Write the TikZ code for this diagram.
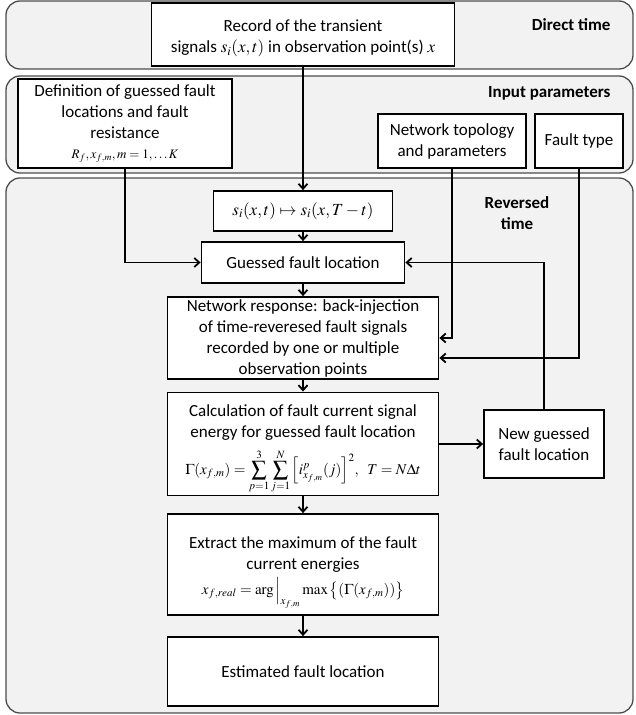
\documentclass[tikz,border=0pt]{standalone}
\usepackage{mathptmx}
\usepackage{amsmath}
\usepackage[no-math]{fontspec}
\setmainfont{Carlito}
\usepackage{tikz}
\usetikzlibrary{positioning, arrows.meta, calc}

\definecolor{panelgray}{HTML}{F2F2F2}
\definecolor{paneledge}{HTML}{4D4D4D}

\begin{document}
\begin{tikzpicture}[
    x=1pt, y=-1pt,
    font=\fontsize{17}{21}\selectfont,
    panel/.style={draw=paneledge, line width=1.3pt, rounded corners=14pt, fill=panelgray},
    stepbox/.style={draw, line width=1.8pt, fill=white, align=center, inner sep=2pt},
    paneltitle/.style={font=\fontsize{17}{21}\selectfont\bfseries, align=center},
    flow/.style={line width=1.8pt, -{Straight Barb[length=5pt,width=9pt]}}
]
    \useasboundingbox (0,0) rectangle (635,715);

    % ================= PANELS =================
    \draw[panel] (6,1) rectangle (633,69);
    \draw[panel] (6,76) rectangle (633,173);
    \draw[panel] (6,178) rectangle (633,713);

    \node[paneltitle, anchor=east] (dtime) at (614,25) {Direct time};
    \node[paneltitle, anchor=east] (inpar) at (614,93) {Input parameters};
    \node[paneltitle] (rtime) at (517,213.5) {Reversed\\time};

    % ================= DIRECT TIME =================
    \node[stepbox, minimum width=303pt, minimum height=63pt] (rec) at (303,34.5)
        {\rule{0pt}{20pt}Record of the transient\\ signals $s_i(x,t)$ in observation point(s) $x$};

    % ================= INPUT PARAMETERS =================
    \node[stepbox, minimum width=214pt, minimum height=89pt] (def) at (125,123.5)
        {Definition of guessed fault\\ locations and fault\\ resistance\\[-1pt]
         {\fontsize{13}{15}\selectfont $R_f, x_{f,m}, m=1,\ldots K$}};
    \node[stepbox, minimum width=148pt, minimum height=54pt] (topo) at (452,141)
        {Network topology\\ and parameters};
    \node[stepbox, minimum width=88pt, minimum height=54pt] (ftype) at (579,141)
        {Fault type};

    % ================= REVERSED TIME =================
    \node[stepbox, minimum width=179pt, minimum height=40pt] (rev) at (303,211)
        {$s_i(x,t) \mapsto s_i(x,T-t)$};
    \node[stepbox, minimum width=203pt, minimum height=41pt] (guess) at (303,262.5)
        {Guessed fault location};
    \node[stepbox, minimum width=271pt, minimum height=82pt] (resp) at (303,338)
        {Network response: back-injection\\ of time-reveresed fault signals\\
         recorded by one or multiple\\ observation points};
    \node[stepbox, minimum width=271pt, minimum height=103pt] (calc) at (303,444)
        {\rule{0pt}{22pt}Calculation of fault current signal\\ energy for guessed fault location\\[8pt]
         {\fontsize{15}{18}\selectfont $\displaystyle \Gamma(x_{f,m}) = \sum_{p=1}^{3}\sum_{j=1}^{N}\Big[i^{p}_{x_{f,m}}(j)\Big]^2,\ \ T = N\Delta t$}};
    \node[stepbox, minimum width=120pt, minimum height=68pt] (newg) at (544,444)
        {New guessed\\ fault location};
    \node[stepbox, minimum width=271pt, minimum height=101pt] (extr) at (303,564.5)
        {\rule{0pt}{28pt}Extract the maximum of the fault\\ current energies\\[4pt]
         {\fontsize{15}{18}\selectfont $x_{f,real} = \arg\Big|_{x_{f,m}} \max\big\{(\Gamma(x_{f,m}))\big\}$}};
    \node[stepbox, minimum width=271pt, minimum height=69pt] (est) at (303,671.5)
        {Estimated fault location};

    % ================= CONNECTIONS =================
    \draw[flow] (rec) -- (rev);
    \draw[flow] (rev) -- (guess);
    \draw[flow] (guess) -- (resp);
    \draw[flow] (resp) -- (calc);
    \draw[flow] (calc) -- (extr);
    \draw[flow] (extr) -- (est);
    \draw[flow] (calc) -- (newg);

    % Inputs and feedback, orthogonal routing
    \draw[flow] (def.south) |- (guess.west);
    \draw[flow] (topo.south) |- (resp.east);
    \draw[flow] (ftype.south) |- ($(resp.east)+(0,20)$);
    \draw[flow] (newg.north) |- (guess.east);

\end{tikzpicture}
\end{document}
